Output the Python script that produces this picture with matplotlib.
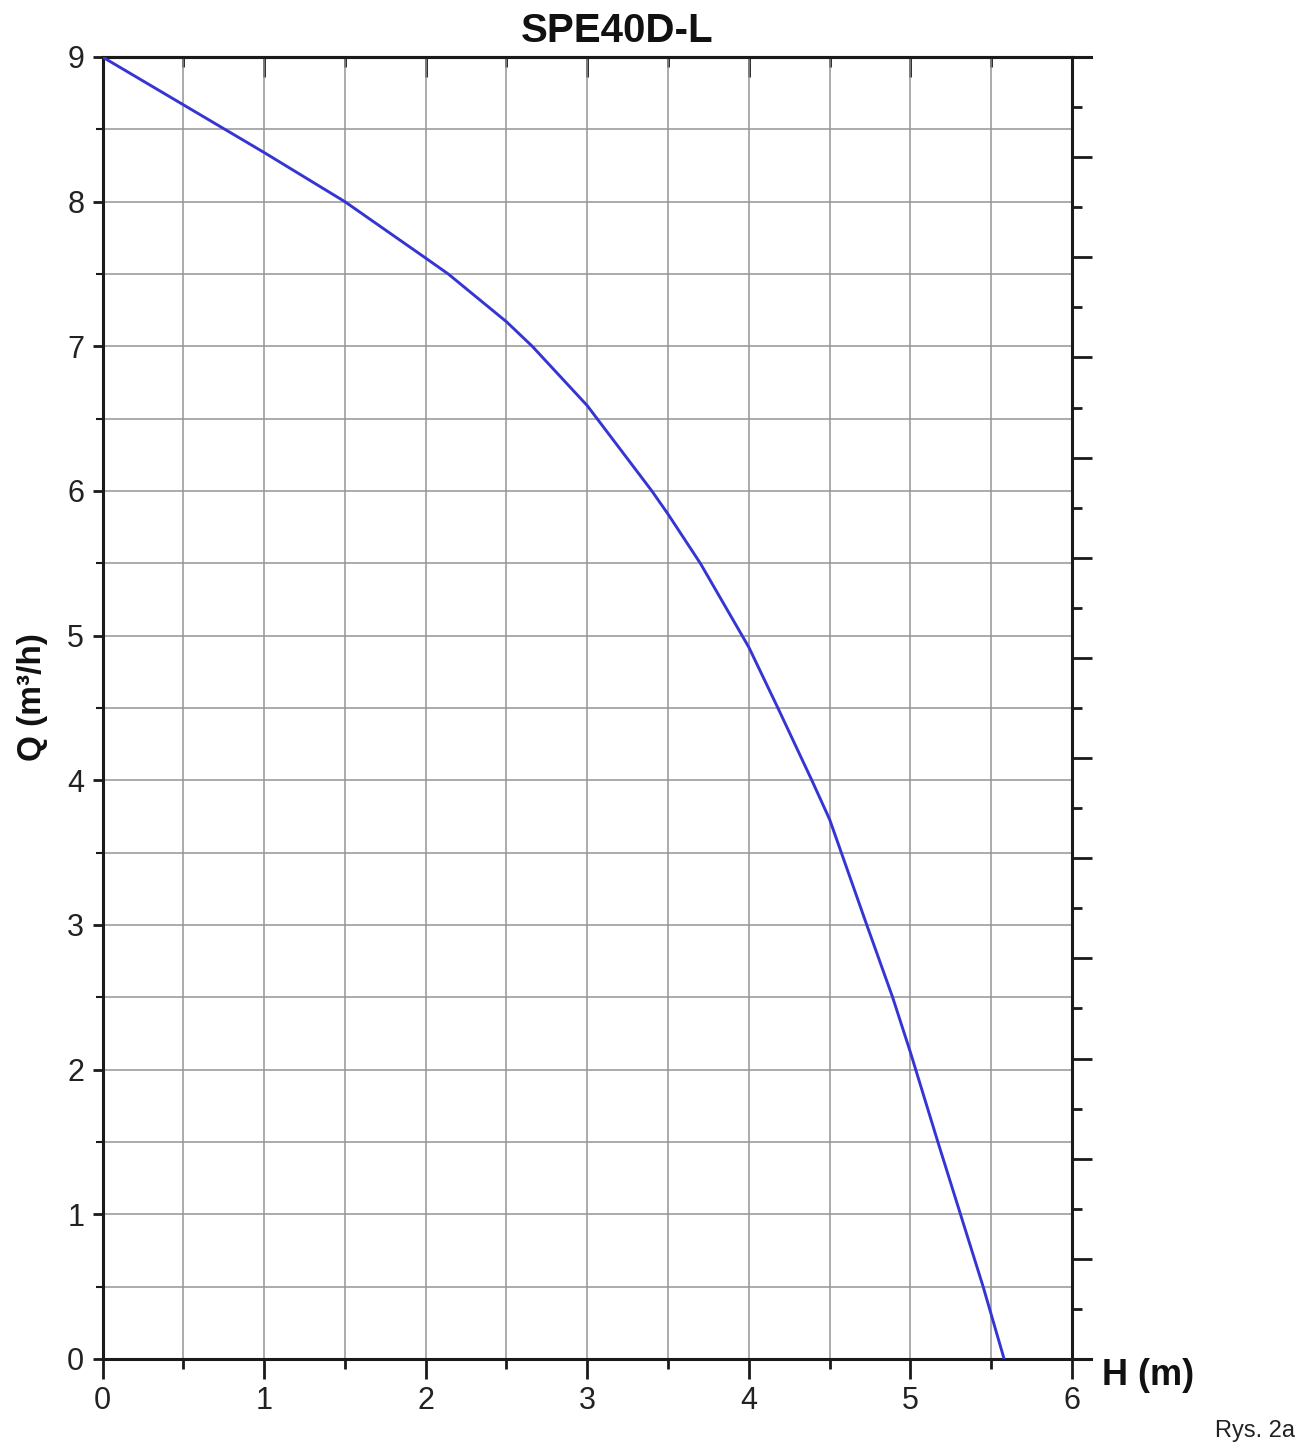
import matplotlib
matplotlib.use("Agg")
import matplotlib.pyplot as plt
from matplotlib.ticker import MultipleLocator

plt.rcParams['font.family'] = ['Liberation Sans', 'DejaVu Sans']

# Data
H = [0, 0.5, 1.0, 1.5, 2.0, 2.14, 2.5, 2.66, 3.0, 3.40, 3.5, 3.7, 4.0,
     4.18, 4.39, 4.5, 4.73, 4.89, 5.0, 5.17, 5.31, 5.45, 5.58]
Q = [9.0, 8.67, 8.34, 8.0, 7.61, 7.5, 7.17, 7.0, 6.59, 6.0, 5.84, 5.5, 4.92,
     4.5, 4.0, 3.73, 3.0, 2.5, 2.12, 1.5, 1.0, 0.5, 0.0]
x_ticks = [0, 1, 2, 3, 4, 5, 6]
y_ticks = [0, 1, 2, 3, 4, 5, 6, 7, 8, 9]
title = "SPE40D-L"
xlabel = "H (m)"
ylabel = "Q (m³/h)"
note = "Rys. 2a"

W, Hpx = 1306, 1448
fig = plt.figure(figsize=(W / 100, Hpx / 100), dpi=100)
left, right, top, bottom = 102.5, 1072, 57, 1359
ax = fig.add_axes([left / W, 1 - bottom / Hpx, (right - left) / W, (bottom - top) / Hpx])

ax.set_xlim(0, 6)
ax.set_ylim(0, 9)
ax.set_xticks(x_ticks)
ax.set_yticks(y_ticks)
ax.xaxis.set_minor_locator(MultipleLocator(0.5))
ax.yaxis.set_minor_locator(MultipleLocator(0.5))

ax.grid(True, which='both', color='#959595', linewidth=1.1, zorder=0)
ax.set_axisbelow(True)

ax.plot(H, Q, color='#3535d4', linewidth=2.1, zorder=3,
        solid_joinstyle='round', solid_capstyle='butt')

for s in ax.spines.values():
    s.set_linewidth(2.2)
    s.set_color('#1a1a1a')
ax.spines['right'].set_visible(False)

ax.tick_params(axis='x', which='major', direction='out', length=14.4, width=2,
               labelsize=22, pad=5, top=False, colors='#1a1a1a')
ax.tick_params(axis='x', which='minor', direction='out', length=7.2, width=2,
               top=False, colors='#1a1a1a')
ax.tick_params(axis='y', which='major', direction='out', length=7.2, width=2,
               labelsize=22, pad=6, colors='#1a1a1a')
ax.tick_params(axis='y', which='minor', direction='out', length=5, width=1.5,
               colors='#1a1a1a')
ax.xaxis.set_tick_params(labelcolor='#222222')
ax.yaxis.set_tick_params(labelcolor='#222222')

# top inward ticks
sec = ax.secondary_xaxis('top')
sec.set_xticks(x_ticks)
sec.xaxis.set_minor_locator(MultipleLocator(0.5))
sec.tick_params(axis='x', which='major', direction='in', length=14.4, width=2,
                labeltop=False, colors='#1a1a1a')
sec.tick_params(axis='x', which='minor', direction='in', length=7.2, width=2,
                colors='#1a1a1a')
sec.spines['top'].set_linewidth(2.2)

# right axis with its own unlabeled ticks
ax2 = ax.twinx()
ax2.set_ylim(0, 13)
ax2.yaxis.set_major_locator(MultipleLocator(1))
ax2.yaxis.set_minor_locator(MultipleLocator(0.5))
ax2.tick_params(axis='y', which='major', direction='out', length=14.4, width=2,
                labelright=False, colors='#1a1a1a')
ax2.tick_params(axis='y', which='minor', direction='out', length=7.2, width=2,
                colors='#1a1a1a')
for k in ['left', 'top', 'bottom']:
    ax2.spines[k].set_visible(False)
ax2.spines['right'].set_linewidth(2.2)
ax2.spines['right'].set_color('#1a1a1a')

# spine extensions beyond x=6
ext = 19 / (right - left)
ax.plot([1, 1 + ext], [0, 0], transform=ax.transAxes, color='#1a1a1a',
        linewidth=2.2, clip_on=False, zorder=5)
ax.plot([1, 1 + ext], [1, 1], transform=ax.transAxes, color='#1a1a1a',
        linewidth=2.2, clip_on=False, zorder=5)

fig.text(617.5 / W, 1 - 42 / Hpx, title, ha='center', va='baseline',
         fontsize=29, fontweight='bold', color='#111111')
fig.text(1102 / W, 1 - 1385 / Hpx, xlabel, ha='left', va='baseline',
         fontsize=26, fontweight='bold', color='#111111')
fig.text(33 / W, 1 - 697 / Hpx, ylabel, ha='center', va='center',
         rotation=90, fontsize=24, fontweight='bold', color='#111111')
fig.text(1295 / W, 1 - 1437 / Hpx, note, ha='right', va='baseline',
         fontsize=17, color='#222222')

fig.savefig('out.png', dpi=100, facecolor='white')
